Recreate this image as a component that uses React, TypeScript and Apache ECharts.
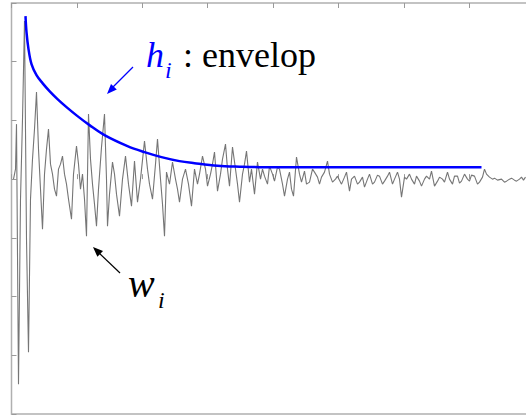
import React, { useEffect, useRef } from "react";
import * as echarts from "echarts";

// Time axis (samples) and amplitude
const xTickInterval = 65.4;
const xMax = 523.2;
const yTickInterval = 58.7;
const yMin = -234.8;
const yMax = 176.1;

const signalX = [
  2, 4, 5, 7, 9, 11, 13, 15, 17, 19, 21, 23, 25, 27, 29, 31, 33, 35, 37, 39, 41, 43, 45, 47, 49, 51, 53, 55, 57, 60,
  62, 65, 67, 69, 71, 73, 75, 77, 79, 81, 83, 85, 87, 90, 93, 95, 96, 98, 101, 103, 105, 108, 111, 114, 117, 120, 123, 126, 129, 133,
  136, 138, 141, 144, 146, 149, 151, 153, 155, 158, 161, 164, 166, 168, 171, 174, 177, 180, 183, 186, 188, 191, 194, 196, 199, 201, 203, 206, 209, 211,
  214, 216, 218, 221, 224, 226, 228, 231, 233, 235, 238, 240, 243, 246, 249, 251, 253, 256, 258, 261, 263, 266, 268, 271, 273, 276, 278, 280, 282, 285,
  288, 290, 293, 295, 298, 301, 303, 306, 308, 310, 313, 316, 318, 321, 324, 326, 330, 333, 335, 338, 340, 343, 346, 348, 351, 353, 356, 358, 361, 363,
  366, 368, 371, 373, 376, 378, 381, 383, 386, 388, 390, 393, 395, 398, 400, 403, 405, 408, 410, 413, 415, 418, 420, 423, 426, 428, 431, 433, 436, 438,
  441, 443, 446, 448, 450, 453, 456, 458, 460, 463, 466, 468, 471, 473, 475, 478, 481, 483, 486, 490, 493, 495, 498, 500, 503, 505, 508, 510, 512, 514,
];
const signalY = [
  0, 10, 55, -205, -20, 60, 158, -60, -173, -20, 20, 50, 87, 30, -10, -50, 5, 30, 50, 15, 5, -10, -17, 10, 15, 23, 5, -5, -20, -40,
  5, 33, 15, -10, 5, -20, -57, 65, 20, -5, -25, -47, -10, 32, 65, 0, -47, -15, 17, 5, -15, -37, 0, 23, -5, -27, 18, -23, 0, 38,
  10, -5, -20, 15, 40, 0, -25, -57, 7, -5, 17, 0, -10, -23, 0, 10, -5, -27, 10, -5, 5, 23, 10, -7, 5, 15, 27, -12, 5, 20,
  35, 10, -7, 32, 10, -5, -23, 5, 15, 28, -3, 10, -15, 17, 0, 10, 3, -5, 13, 5, -2, 12, 10, -5, -17, 0, 7, -10, -17, 22,
  5, -3, 8, -5, -3, 10, 7, 2, -5, 2, 7, 18, 5, -3, 0, 3, -5, 2, 7, -12, 0, 3, -5, -3, 2, -8, 0, 5, -5, -3,
  4, 3, -5, -2, 3, 7, -5, 0, 7, 0, -18, 2, 0, 5, 0, -5, 3, -2, -7, 0, 3, 0, 8, -7, -2, 2, 0, -3, 7, 0,
  -5, 3, 3, -4, -2, 5, 0, -2, 4, 3, -5, -3, 2, 10, 5, 2, 0, 1, -1, 0, -3, -2, 0, 1, -1, -2, 0, 2, -1, 2,
];

const envelopeX = [14, 15, 17, 20, 25, 31, 38, 46, 55, 66, 78, 93, 116, 133, 150, 168, 183, 206, 228, 248, 470];
const envelopeY = [163, 147, 130, 115, 104, 96, 88, 80, 72, 63, 54, 44, 33, 27, 22, 18, 16, 13.5, 12.5, 12, 12];

const serif = "'Liberation Serif', 'Times New Roman', serif";

export default function App() {
  const ref = useRef<HTMLDivElement>(null);
  useEffect(() => {
    if (!ref.current) return;
    const chart = echarts.init(ref.current, undefined, { renderer: "svg" });
    const signal = signalX.map((x, i) => [x, signalY[i]]);
    const envelope = envelopeX.map((x, i) => [x, envelopeY[i]]);
    const tick = { show: true, inside: true, length: 5, lineStyle: { color: "#9a9a9a", width: 1 } };
    const valueX = (position: string) => ({
      type: "value",
      position,
      min: 0,
      max: xMax,
      interval: xTickInterval,
      axisLine: { show: false },
      axisTick: tick,
      axisLabel: { show: false },
      splitLine: { show: false },
    });
    const txt = (text: string, x: number, y: number, size: number, italic: boolean, fill: string) => ({
      type: "text",
      x,
      y,
      style: {
        text,
        fontFamily: serif,
        fontSize: size,
        fontStyle: italic ? "italic" : "normal",
        fill,
        verticalAlign: "middle",
      },
    });
    chart.setOption({
      animation: false,
      backgroundColor: "#ffffff",
      grid: {
        left: 11.5,
        top: 3,
        width: xMax,
        height: 411,
        show: true,
        borderColor: "#b0b0b0",
        borderWidth: 1.5,
        backgroundColor: "transparent",
      },
      xAxis: [valueX("bottom"), valueX("top")],
      yAxis: {
        type: "value",
        min: yMin,
        max: yMax,
        interval: yTickInterval,
        axisLine: { show: false },
        axisTick: tick,
        axisLabel: { show: false },
        splitLine: { show: false },
      },
      series: [
        {
          type: "line",
          name: "w_i",
          data: signal,
          showSymbol: false,
          lineStyle: { color: "#767676", width: 1.1 },
          z: 2,
        },
        {
          type: "line",
          name: "h_i",
          data: envelope,
          showSymbol: false,
          smooth: 0.35,
          lineStyle: { color: "#0000ff", width: 2.5 },
          z: 3,
        },
      ],
      graphic: [
        { type: "line", shape: { x1: 133, y1: 67, x2: 112, y2: 88 }, style: { stroke: "#0000ff", lineWidth: 1.2 } },
        { type: "polygon", shape: { points: [[107, 94], [116.8, 89.6], [111, 84]] }, style: { fill: "#0000ff" } },
        { type: "line", shape: { x1: 120, y1: 273, x2: 98, y2: 252 }, style: { stroke: "#000000", lineWidth: 1.2 } },
        { type: "polygon", shape: { points: [[93, 247], [103, 251], [97.4, 256.8]] }, style: { fill: "#000000" } },
        txt("h", 146, 55, 36, true, "#0000ff"),
        txt("i", 165, 70, 24, true, "#0000ff"),
        txt(": envelop", 183, 55, 36, false, "#000000"),
        txt("w", 128, 283, 40, true, "#000000"),
        txt("i", 158, 300, 24, true, "#000000"),
      ],
    });
    return () => chart.dispose();
  }, []);
  return (
    <div style={{ position: "fixed", left: 0, top: 0, width: 526, height: 419, overflow: "hidden", background: "#fff" }}>
      <div ref={ref} style={{ width: 545, height: 419 }} />
    </div>
  );
}
